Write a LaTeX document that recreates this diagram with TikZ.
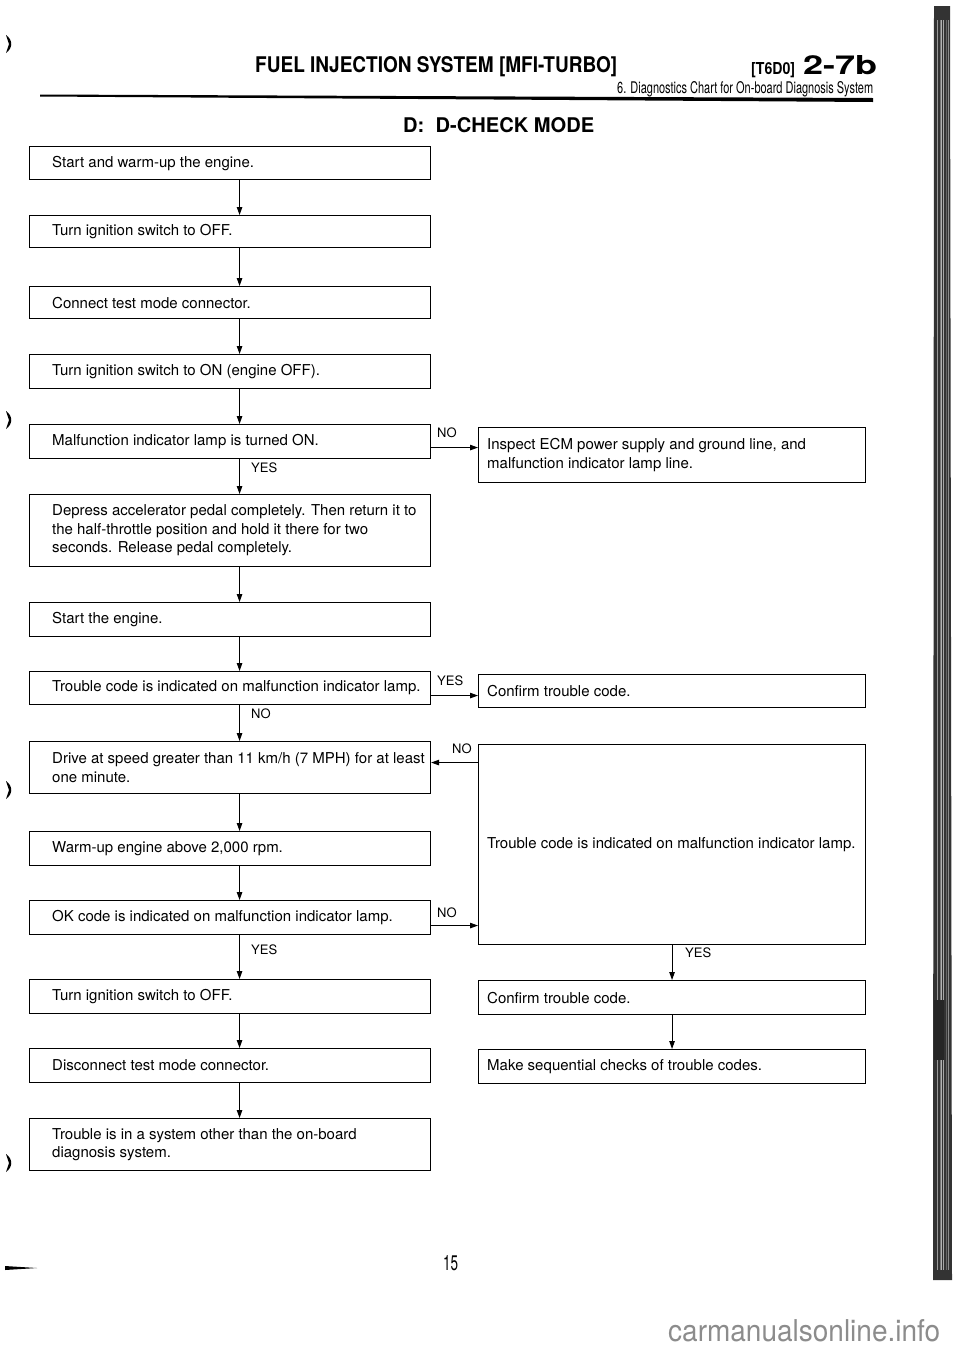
\documentclass[tikz,border=0pt]{standalone}
\usepackage{fontspec}
\setmainfont{TeX Gyre Heros}
\usetikzlibrary{arrows.meta}
\begin{document}
\begin{tikzpicture}[x=1pt,y=-1pt,
  box/.style={draw, line width=1.1pt, rectangle, anchor=north west, inner sep=0pt, minimum width=401pt},
  rbox/.style={box, minimum width=387pt},
  txt/.style={anchor=west, inner sep=0pt, align=left, font=\fontsize{15}{18.5}\selectfont},
  lab/.style={anchor=west, inner sep=0pt, font=\fontsize{13}{15}\selectfont},
  arr/.style={line width=1pt, -{Triangle[length=8pt,width=5.5pt]}},
  hdr/.style={anchor=base west, inner sep=0pt}]
\useasboundingbox (0,0) rectangle (960,1358);
\fill[white] (0,0) rectangle (960,1358);

% header
\node[hdr] (title) at (255,72) {\resizebox{362pt}{16pt}{\bfseries FUEL INJECTION SYSTEM [MFI-TURBO]}};
\node[hdr] (code) at (751,74) {\resizebox{44pt}{12pt}{\bfseries [T6D0]}};
\node[hdr] (page) at (803,74) {\resizebox{74pt}{19pt}{\bfseries 2-7b}};
\node[hdr] (sub) at (617,93.5) {\resizebox{256pt}{12pt}{6. Diagnostics Chart for On-board Diagnosis System}};
\fill (40,94.5) -- (873,98) -- (873,102) -- (40,96.5) -- cycle;
\node[hdr] (mode) at (403,132) {\resizebox{191pt}{15pt}{\bfseries D:\ \ D-CHECK MODE}};

% left column
\node[box, minimum height=33pt] (b1) at (29,146) {};
\node[txt] (t1) at ([xshift=23pt]b1.west) {Start and warm-up the engine.};
\node[box, minimum height=32pt] (b2) at (29,215) {};
\node[txt] (t2) at ([xshift=23pt]b2.west) {Turn ignition switch to OFF.};
\node[box, minimum height=32pt] (b3) at (29,286) {};
\node[txt] (t3) at ([xshift=23pt]b3.west) {Connect test mode connector.};
\node[box, minimum height=34pt] (b4) at (29,354) {};
\node[txt] (t4) at ([xshift=23pt]b4.west) {Turn ignition switch to ON (engine OFF).};
\node[box, minimum height=34pt] (b5) at (29,424) {};
\node[txt] (t5) at ([xshift=23pt]b5.west) {Malfunction indicator lamp is turned ON.};
\node[box, minimum height=72pt] (b6) at (29,494) {};
\node[txt] (t6) at ([xshift=23pt]b6.west) {Depress accelerator pedal completely. Then return it to\\the half-throttle position and hold it there for two\\seconds. Release pedal completely.};
\node[box, minimum height=34pt] (b7) at (29,602) {};
\node[txt] (t7) at ([xshift=23pt]b7.west) {Start the engine.};
\node[box, minimum height=33pt] (b8) at (29,671) {};
\node[txt] (t8) at ([xshift=23pt]b8.west) {Trouble code is indicated on malfunction indicator lamp.};
\node[box, minimum height=52pt] (b9) at (29,741) {};
\node[txt] (t9) at ([xshift=23pt]b9.west) {Drive at speed greater than 11 km/h (7 MPH) for at least\\one minute.};
\node[box, minimum height=34pt] (b10) at (29,831) {};
\node[txt] (t10) at ([xshift=23pt]b10.west) {Warm-up engine above 2,000 rpm.};
\node[box, minimum height=34pt] (b11) at (29,900) {};
\node[txt] (t11) at ([xshift=23pt]b11.west) {OK code is indicated on malfunction indicator lamp.};
\node[box, minimum height=34pt] (b12) at (29,979) {};
\node[txt] (t12) at ([xshift=23pt]b12.west) {Turn ignition switch to OFF.};
\node[box, minimum height=34pt] (b13) at (29,1048) {};
\node[txt] (t13) at ([xshift=23pt]b13.west) {Disconnect test mode connector.};
\node[box, minimum height=52pt] (b14) at (29,1118) {};
\node[txt] (t14) at ([xshift=23pt]b14.west) {Trouble is in a system other than the on-board\\diagnosis system.};

% right column
\node[rbox, minimum height=55pt] (r1) at (478,427) {};
\node[txt] (u1) at ([xshift=9pt]r1.west) {Inspect ECM power supply and ground line, and\\malfunction indicator lamp line.};
\node[rbox, minimum height=33pt] (r2) at (478,674) {};
\node[txt] (u2) at ([xshift=9pt]r2.west) {Confirm trouble code.};
\node[rbox, minimum height=200pt] (r3) at (478,744) {};
\node[txt] (u3) at ([xshift=9pt]r3.west) {Trouble code is indicated on malfunction indicator lamp.};
\node[rbox, minimum height=34pt] (r4) at (478,980) {};
\node[txt] (u4) at ([xshift=9pt]r4.west) {Confirm trouble code.};
\node[rbox, minimum height=34pt] (r5) at (478,1049) {};
\node[txt] (u5) at ([xshift=9pt]r5.west) {Make sequential checks of trouble codes.};

% vertical connectors
\foreach \a/\b in {b1/b2,b2/b3,b3/b4,b4/b5,b5/b6,b6/b7,b7/b8,b8/b9,b9/b10,b10/b11,b11/b12,b12/b13,b13/b14}
  \draw[arr] ([xshift=9.5pt]\a.south) -- ([xshift=9.5pt]\b.north);
\draw[arr] (r3.south) -- (r4.north);
\draw[arr] (r4.south) -- (r5.north);

% horizontal connectors
\draw[arr] ([yshift=-6pt]b5.east) -- ([yshift=-6pt]b5.east -| r1.west);
\draw[arr] ([yshift=-7.5pt]b8.east) -- ([yshift=-7.5pt]b8.east -| r2.west);
\draw[arr] ([yshift=5pt]b9.east -| r3.west) -- ([yshift=5pt]b9.east);
\draw[arr] ([yshift=-8pt]b11.east) -- ([yshift=-8pt]b11.east -| r3.west);

% labels
\node[lab] (l1) at (437,433) {NO};
\node[lab] (l2) at (251,468) {YES};
\node[lab] (l3) at (437,681) {YES};
\node[lab] (l4) at (251,714) {NO};
\node[lab] (l5) at (452,749) {NO};
\node[lab] (l6) at (437,913) {NO};
\node[lab] (l7) at (251,950) {YES};
\node[lab] (l8) at (685,953) {YES};

% footer
\node[hdr] (num) at (443,1270) {\resizebox{15pt}{15pt}{15}};
\node[hdr, text=black!45] (wm) at (668,1341) {\resizebox{272pt}{22pt}{carmanualsonline.info}};

% scan edges
\fill[black!80] (934,6) -- (950,6) -- (952,1280) -- (933,1280) -- cycle;
\foreach \xx/\g in {937/40,940/55,943/35,946/60,948/45,941/30}
  \draw[black!\g, line width=0.8pt] (\xx,20) -- (\xx,1270);
\fill[black!85] (934,1000) rectangle (944,1060);
\foreach \yy in {44,420,790,1163}
  \fill (6,\yy-9) .. controls (13,\yy-4) and (13,\yy+4) .. (6,\yy+9) -- (9,\yy) -- cycle;
\fill (5,1266) -- (37,1268) -- (5,1270) -- cycle;
\end{tikzpicture}
\end{document}
